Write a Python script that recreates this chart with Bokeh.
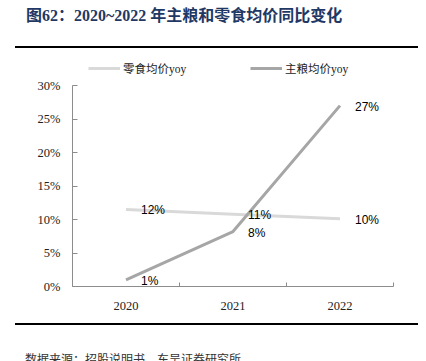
from bokeh.plotting import figure
from bokeh.models import (Range1d, FixedTicker, NumeralTickFormatter, Legend, LegendItem,
                          ColumnDataSource, Div)
from bokeh.layouts import column
from bokeh.core.properties import value
from bokeh.embed import file_html
from bokeh.resources import INLINE

years = ["2020", "2021", "2022"]
snack_yoy = [0.115, 0.108, 0.101]
staple_yoy = [0.010, 0.082, 0.270]
snack_labels = ["12%", "11%", "10%"]
staple_labels = ["1%", "8%", "27%"]
y_ticks = [0, 0.05, 0.10, 0.15, 0.20, 0.25, 0.30]
y_max = 0.30

title_text = "图62：2020~2022 年主粮和零食均价同比变化"
source_text = "数据来源：招股说明书，东吴证券研究所"

W, H = 426, 361
TOP_H = 50          # title block height
BOT_Y = 323         # canvas y where the bottom block starts
FL, FR = 72, 393    # frame left/right on the page
Y0, Y30 = 286, 85   # page y of 0% and 30%
FIG_H = BOT_Y - TOP_H
frame_bottom = Y0 - TOP_H
y_end = y_max * (Y0 - TOP_H) / (Y0 - Y30)

xs = [i + 1 for i in range(len(years))]

top_div = Div(width=W, height=TOP_H, margin=0, text=(
    '<div style="position:relative;width:%dpx;height:%dpx;overflow:hidden;">'
    '<div style="position:absolute;left:26px;top:5px;white-space:nowrap;'
    'font-family:\'Liberation Serif\',\'Noto Sans CJK SC\';font-weight:bold;'
    'font-size:16px;color:#1F3864;">%s</div>'
    '<div style="position:absolute;left:15px;top:46px;width:403px;height:2px;'
    'background:#000;"></div></div>') % (W, TOP_H, title_text))

bot_div = Div(width=W, height=H - BOT_Y, margin=0, text=(
    '<div style="position:relative;width:%dpx;height:%dpx;overflow:hidden;">'
    '<div style="position:absolute;left:15px;top:0px;width:403px;height:2px;'
    'background:#000;"></div>'
    '<div style="position:absolute;left:25px;top:27px;white-space:nowrap;'
    'font-family:\'Noto Sans CJK SC\';font-size:12px;color:#333;">%s</div>'
    '</div>') % (W, H - BOT_Y, source_text))

p = figure(width=W, height=FIG_H, output_backend="svg", toolbar_location=None,
           x_range=Range1d(0.5, len(years) + 0.5), y_range=Range1d(0, y_end),
           min_border_left=FL, min_border_right=W - FR, min_border_top=0,
           min_border_bottom=FIG_H - frame_bottom, margin=0)
p.outline_line_color = None
p.grid.visible = False
p.background_fill_color = "white"
p.border_fill_color = "white"

axis_color = "#8c8c8c"
p.xaxis.ticker = FixedTicker(ticks=xs, minor_ticks=[x - 0.5 for x in xs] + [xs[-1] + 0.5])
p.xaxis.major_label_overrides = {x: y for x, y in zip(xs, years)}
p.xaxis.major_tick_line_color = None
p.xaxis.minor_tick_in = 4
p.xaxis.minor_tick_out = 0
p.xaxis.minor_tick_line_color = axis_color
p.xaxis.axis_line_color = axis_color
p.xaxis.major_label_standoff = 9
p.xaxis.major_label_text_font = "Liberation Serif"
p.xaxis.major_label_text_font_size = "12.5px"
p.xaxis.major_label_text_color = "#222222"

p.yaxis.bounds = (0, y_max)
p.yaxis.ticker = FixedTicker(ticks=y_ticks)
p.yaxis.formatter = NumeralTickFormatter(format="0%")
p.yaxis.major_tick_in = 5
p.yaxis.major_tick_out = 0
p.yaxis.minor_tick_line_color = None
p.yaxis.major_tick_line_color = axis_color
p.yaxis.axis_line_color = axis_color
p.yaxis.major_label_standoff = 12
p.yaxis.major_label_text_font = "Liberation Serif"
p.yaxis.major_label_text_font_size = "12.5px"
p.yaxis.major_label_text_color = "#222222"

src = ColumnDataSource(dict(x=xs, snack=snack_yoy, staple=staple_yoy,
                            sl=snack_labels, tl=staple_labels))
r1 = p.line("x", "snack", source=src, line_color="#D9D9D9", line_width=3)
r2 = p.line("x", "staple", source=src, line_color="#A6A6A6", line_width=3)

for col, lab in (("snack", "sl"), ("staple", "tl")):
    p.text("x", col, text=lab, source=src, x_offset=15, y_offset=1,
           text_font=value("Liberation Sans"), text_font_size="12px",
           text_color="#000000", text_baseline="middle", text_align="left")

def mk_legend(item_label, rend, x, y):
    lg = Legend(items=[LegendItem(label=item_label, renderers=[rend])], location=(x, y),
                orientation="horizontal", glyph_width=32, glyph_height=14,
                label_text_font="'Liberation Serif', 'Noto Sans CJK SC'",
                label_text_font_size="11.5px",
                label_text_color="#222222", label_standoff=3, padding=0, margin=0,
                border_line_color=None, background_fill_alpha=0, spacing=0,
                label_height=14)
    p.add_layout(lg, "center")

# legend rows centred at page y = 69
leg_y = (Y0 - 69) - 7
mk_legend("零食均价yoy", r1, 88 - FL, leg_y)
mk_legend("主粮均价yoy", r2, 250 - FL, leg_y)

layout = column(top_div, p, bot_div, spacing=0, margin=0)
open("out.html", "w").write(file_html(layout, INLINE))
